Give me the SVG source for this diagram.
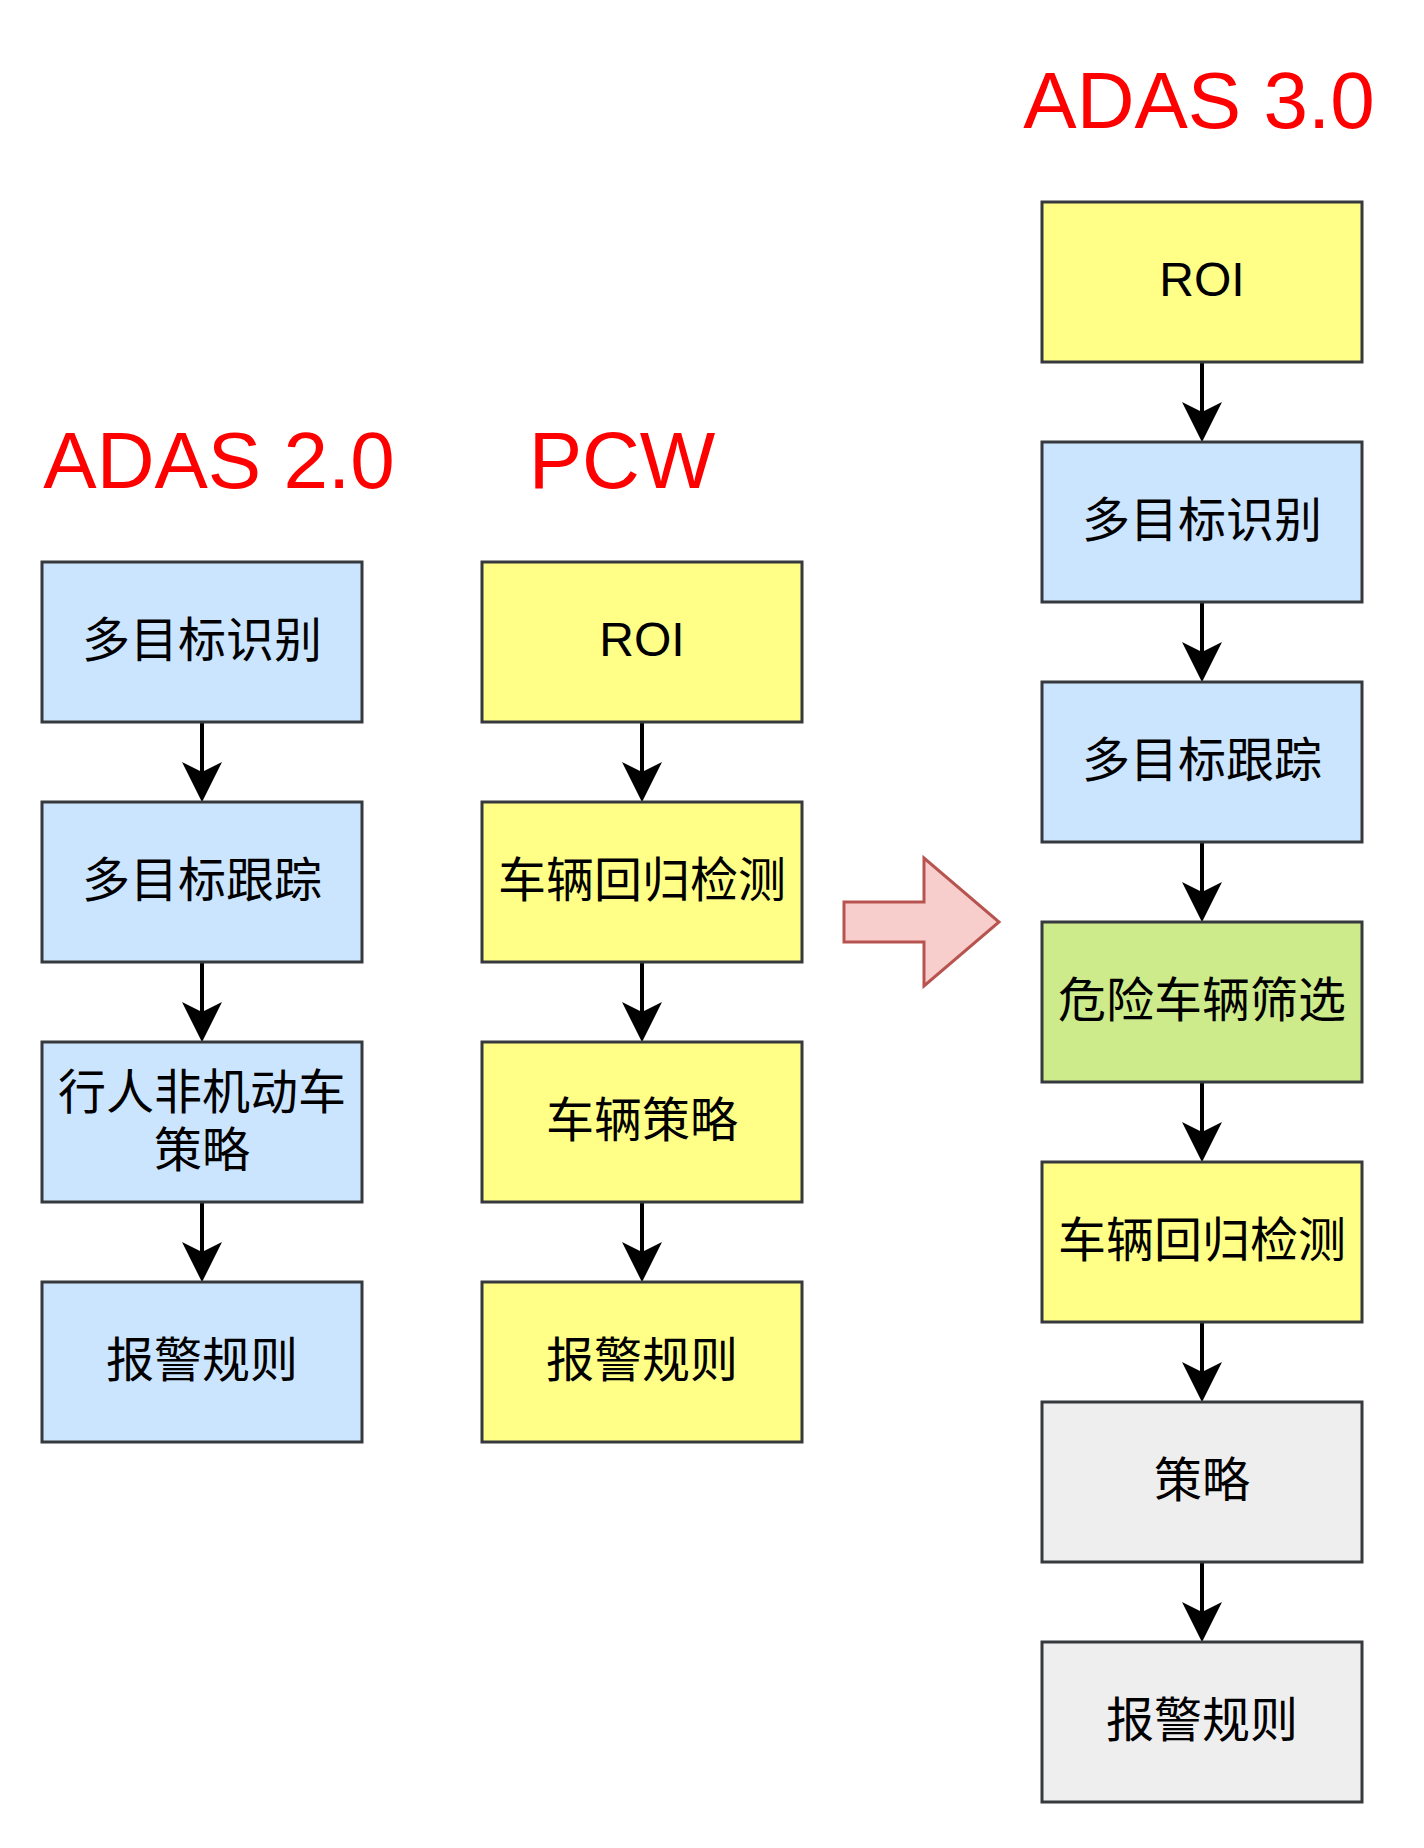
<svg xmlns="http://www.w3.org/2000/svg" width="1424" height="1848" viewBox="0 0 1424 1848">
<defs>
<style>
.box{stroke:#36393d;stroke-width:3}
.blue{fill:#cce5ff}
.yellow{fill:#ffff88}
.green{fill:#cdeb8b}
.grey{fill:#eeeeee}
.lbl{font-family:"Liberation Sans","Noto Sans CJK SC",sans-serif;font-size:48px;fill:#000;text-anchor:middle}
.title{font-family:"Liberation Sans",Arial,sans-serif;font-size:80px;fill:#ff0000;text-anchor:middle}
.edge{stroke:#000;stroke-width:4;fill:none}
</style>
<marker id="arr" markerUnits="userSpaceOnUse" markerWidth="40" markerHeight="40" viewBox="0 0 36 36" refX="26" refY="18" orient="auto">
<path d="M36,18 L0,0 L9,18 L0,36 Z" fill="#000"/>
</marker>
</defs>
<rect width="1424" height="1848" fill="#fff"/>
<g id="titles">
<text class="title" x="219" y="488">ADAS 2.0</text>
<text class="title" x="622" y="488">PCW</text>
<text class="title" x="1199" y="128">ADAS 3.0</text>
</g>
<g id="bigArrow">
<polygon points="844,902 924,902 924,858 999,922 924,986 924,942 844,942" fill="#f8cecc" stroke="#b85450" stroke-width="3"/>
</g>
<g id="connectors">
<line class="edge" x1="202" y1="722" x2="202" y2="791" marker-end="url(#arr)"/>
<line class="edge" x1="202" y1="962" x2="202" y2="1031" marker-end="url(#arr)"/>
<line class="edge" x1="202" y1="1202" x2="202" y2="1271" marker-end="url(#arr)"/>
<line class="edge" x1="642" y1="722" x2="642" y2="791" marker-end="url(#arr)"/>
<line class="edge" x1="642" y1="962" x2="642" y2="1031" marker-end="url(#arr)"/>
<line class="edge" x1="642" y1="1202" x2="642" y2="1271" marker-end="url(#arr)"/>
<line class="edge" x1="1202" y1="362" x2="1202" y2="431" marker-end="url(#arr)"/>
<line class="edge" x1="1202" y1="602" x2="1202" y2="671" marker-end="url(#arr)"/>
<line class="edge" x1="1202" y1="842" x2="1202" y2="911" marker-end="url(#arr)"/>
<line class="edge" x1="1202" y1="1082" x2="1202" y2="1151" marker-end="url(#arr)"/>
<line class="edge" x1="1202" y1="1322" x2="1202" y2="1391" marker-end="url(#arr)"/>
<line class="edge" x1="1202" y1="1562" x2="1202" y2="1631" marker-end="url(#arr)"/>
</g>
<g id="a2-recog"><rect class="box blue" x="42" y="562" width="320" height="160"/><text class="lbl" x="202" y="657">多目标识别</text></g>
<g id="a2-track"><rect class="box blue" x="42" y="802" width="320" height="160"/><text class="lbl" x="202" y="897">多目标跟踪</text></g>
<g id="a2-ped"><rect class="box blue" x="42" y="1042" width="320" height="160"/><text class="lbl" x="202" y="1109">行人非机动车</text><text class="lbl" x="202" y="1167">策略</text></g>
<g id="a2-alarm"><rect class="box blue" x="42" y="1282" width="320" height="160"/><text class="lbl" x="202" y="1377">报警规则</text></g>
<g id="pcw-roi"><rect class="box yellow" x="482" y="562" width="320" height="160"/><text class="lbl" x="642" y="656">ROI</text></g>
<g id="pcw-reg"><rect class="box yellow" x="482" y="802" width="320" height="160"/><text class="lbl" x="642" y="897">车辆回归检测</text></g>
<g id="pcw-strat"><rect class="box yellow" x="482" y="1042" width="320" height="160"/><text class="lbl" x="642" y="1137">车辆策略</text></g>
<g id="pcw-alarm"><rect class="box yellow" x="482" y="1282" width="320" height="160"/><text class="lbl" x="642" y="1377">报警规则</text></g>
<g id="a3-roi"><rect class="box yellow" x="1042" y="202" width="320" height="160"/><text class="lbl" x="1202" y="296">ROI</text></g>
<g id="a3-recog"><rect class="box blue" x="1042" y="442" width="320" height="160"/><text class="lbl" x="1202" y="537">多目标识别</text></g>
<g id="a3-track"><rect class="box blue" x="1042" y="682" width="320" height="160"/><text class="lbl" x="1202" y="777">多目标跟踪</text></g>
<g id="a3-danger"><rect class="box green" x="1042" y="922" width="320" height="160"/><text class="lbl" x="1202" y="1017">危险车辆筛选</text></g>
<g id="a3-reg"><rect class="box yellow" x="1042" y="1162" width="320" height="160"/><text class="lbl" x="1202" y="1257">车辆回归检测</text></g>
<g id="a3-strat"><rect class="box grey" x="1042" y="1402" width="320" height="160"/><text class="lbl" x="1202" y="1497">策略</text></g>
<g id="a3-alarm"><rect class="box grey" x="1042" y="1642" width="320" height="160"/><text class="lbl" x="1202" y="1737">报警规则</text></g>
</svg>
